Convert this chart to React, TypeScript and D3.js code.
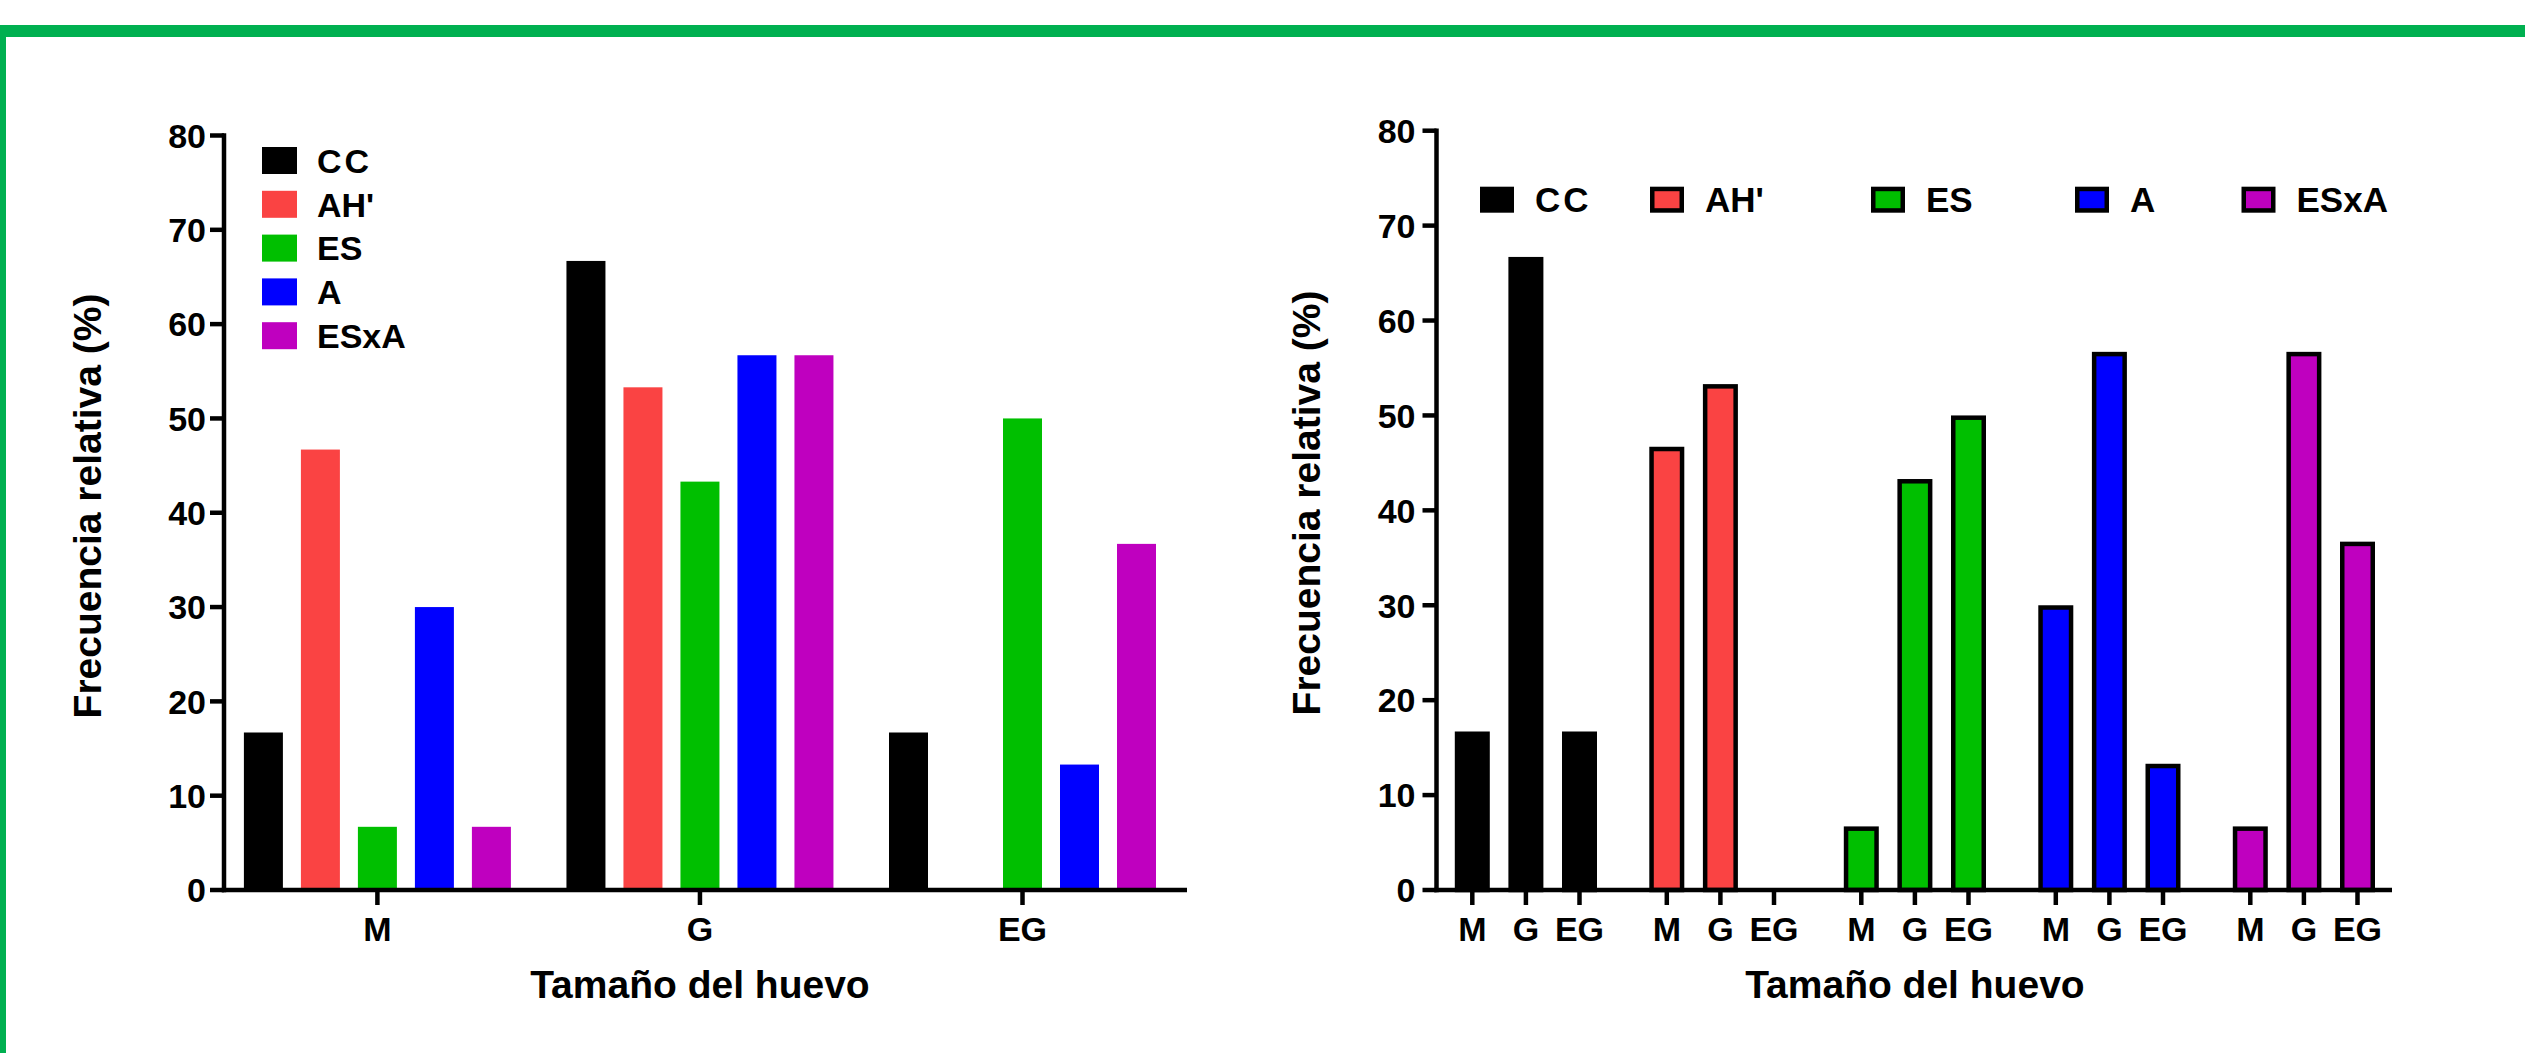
import React, { useEffect, useRef } from "react";
import * as d3 from "d3";

// egg sizes and treatments
const sizes = ["M", "G", "EG"];
const treatments = ["CC", "AH'", "ES", "A", "ESxA"];

// relative frequency (%) per treatment, in the order of sizes
const ccValues = [16.7, 66.7, 16.7];
const ahValues = [46.7, 53.3, 0];
const esValues = [6.7, 43.3, 50];
const aValues = [30, 56.7, 13.3];
const esxaValues = [6.7, 56.7, 36.7];

const yTicks = [0, 10, 20, 30, 40, 50, 60, 70, 80];

const seriesValues = [ccValues, ahValues, esValues, aValues, esxaValues];
const colors = ["#000000", "#FA4343", "#00BF00", "#0000FF", "#BF00BF"];

const FONT = "'Liberation Sans', Arial, sans-serif";
const W = 2525;
const H = 1053;

const App: React.FC = () => {
  const svgRef = useRef<SVGSVGElement>(null);

  useEffect(() => {
    if (!svgRef.current) return;
    const svg = d3.select(svgRef.current);
    svg.selectAll("*").remove();

    // green frame
    svg.append("rect").attr("x", 0).attr("y", 25).attr("width", W).attr("height", 12).attr("fill", "#00B050");
    svg.append("rect").attr("x", 0).attr("y", 25).attr("width", 6).attr("height", H - 25).attr("fill", "#00B050");

    const base = 890;

    const drawYAxis = (g: any, y: d3.ScaleLinear<number, number>, axisX: number, xEnd: number, labelGap: number) => {
      g.append("line")
        .attr("x1", axisX).attr("x2", axisX)
        .attr("y1", y(80) - 2.25).attr("y2", base + 2.25)
        .attr("stroke", "#000").attr("stroke-width", 4.5);
      g.append("line")
        .attr("x1", axisX - 2.25).attr("x2", xEnd)
        .attr("y1", base).attr("y2", base)
        .attr("stroke", "#000").attr("stroke-width", 4.5);
      yTicks.forEach((t) => {
        g.append("line")
          .attr("x1", axisX - 14).attr("x2", axisX)
          .attr("y1", y(t)).attr("y2", y(t))
          .attr("stroke", "#000").attr("stroke-width", 4.5);
        g.append("text")
          .attr("x", axisX - labelGap)
          .attr("y", y(t))
          .attr("dy", "0.36em")
          .attr("text-anchor", "end")
          .style("font-family", FONT)
          .style("font-weight", "bold")
          .style("font-size", "34px")
          .text(t);
      });
    };

    const yTitle = (g: any, x: number, cy: number) => {
      g.append("text")
        .attr("transform", `translate(${x},${cy}) rotate(-90)`)
        .attr("text-anchor", "middle")
        .style("font-family", FONT)
        .style("font-weight", "bold")
        .style("font-size", "39px")
        .text("Frecuencia relativa (%)");
    };

    const xTitle = (g: any, cx: number) => {
      g.append("text")
        .attr("x", cx).attr("y", 998)
        .attr("text-anchor", "middle")
        .style("font-family", FONT)
        .style("font-weight", "bold")
        .style("font-size", "39px")
        .text("Tamaño del huevo");
    };

    const xTick = (g: any, x: number, label: string) => {
      g.append("line")
        .attr("x1", x).attr("x2", x)
        .attr("y1", base).attr("y2", base + 15)
        .attr("stroke", "#000").attr("stroke-width", 4.5);
      g.append("text")
        .attr("x", x).attr("y", 941)
        .attr("text-anchor", "middle")
        .style("font-family", FONT)
        .style("font-weight", "bold")
        .style("font-size", "34px")
        .text(label);
    };

    // ---------- left chart: grouped by size ----------
    const left = svg.append("g");
    const yL = d3.scaleLinear().domain([0, 80]).range([base, 135.5]);
    const xL = d3.scalePoint<string>().domain(sizes).range([377.4, 1022.5]);
    const offL = d3.scalePoint<string>().domain(treatments).range([-114, 114]);
    const bwL = 39;

    treatments.forEach((tr, i) => {
      left.selectAll(null)
        .data(sizes.map((s, j) => ({ s, v: seriesValues[i][j] })))
        .enter()
        .append("rect")
        .attr("x", (d) => (xL(d.s) as number) + (offL(tr) as number) - bwL / 2)
        .attr("y", (d) => yL(d.v))
        .attr("width", bwL)
        .attr("height", (d) => base - yL(d.v))
        .attr("fill", colors[i]);
    });

    drawYAxis(left, yL, 224, 1187, 18);
    sizes.forEach((s) => xTick(left, xL(s) as number, s));
    xTitle(left, xL("G") as number);
    yTitle(left, 101, 506);

    // legend (vertical)
    treatments.forEach((tr, i) => {
      const cy = 160.5 + i * 43.8;
      left.append("rect")
        .attr("x", 262).attr("y", cy - 13.5)
        .attr("width", 35).attr("height", 27)
        .attr("fill", colors[i]);
      left.append("text")
        .attr("x", 317).attr("y", cy)
        .attr("dy", "0.36em")
        .style("font-family", FONT)
        .style("font-weight", "bold")
        .style("font-size", "34px")
        .style("letter-spacing", tr === "CC" ? "3px" : "0px")
        .text(tr);
    });

    // ---------- right chart: grouped by treatment ----------
    const right = svg.append("g");
    const yR = d3.scaleLinear().domain([0, 80]).range([base, 130.7]);
    const xR = d3.scalePoint<string>().domain(treatments).range([1525.9, 2303.9]);
    const offR = d3.scalePoint<string>().domain(sizes).range([-53.6, 53.6]);
    const sw = 4.5;
    const bwR = 35 - sw;

    treatments.forEach((tr, i) => {
      right.selectAll(null)
        .data(sizes.map((s, j) => ({ s, v: seriesValues[i][j] })).filter((d) => d.v > 0))
        .enter()
        .append("rect")
        .attr("x", (d) => (xR(tr) as number) + (offR(d.s) as number) - bwR / 2)
        .attr("y", (d) => yR(d.v) + sw / 2)
        .attr("width", bwR)
        .attr("height", (d) => base - yR(d.v) - sw / 2)
        .attr("fill", colors[i])
        .attr("stroke", "#000")
        .attr("stroke-width", sw);
    });

    drawYAxis(right, yR, 1436.5, 2392, 21);
    treatments.forEach((tr) =>
      sizes.forEach((s) => xTick(right, (xR(tr) as number) + (offR(s) as number), s))
    );
    xTitle(right, xR("ES") as number);
    yTitle(right, 1320, 503);

    // legend (single row)
    const legendXR = [1480, 1650, 1871, 2075, 2241.5];
    treatments.forEach((tr, i) => {
      const cy = 199.7;
      right.append("rect")
        .attr("x", legendXR[i] + sw / 2).attr("y", cy - 13 + sw / 2)
        .attr("width", 34 - sw).attr("height", 26 - sw)
        .attr("fill", colors[i])
        .attr("stroke", "#000")
        .attr("stroke-width", sw);
      right.append("text")
        .attr("x", legendXR[i] + 55).attr("y", cy)
        .attr("dy", "0.36em")
        .style("font-family", FONT)
        .style("font-weight", "bold")
        .style("font-size", "35px")
        .style("letter-spacing", tr === "CC" ? "3px" : "0px")
        .text(tr);
    });
  }, []);

  return (
    <svg
      ref={svgRef}
      width={W}
      height={H}
      style={{ position: "absolute", left: 0, top: 0, background: "#fff" }}
    ></svg>
  );
};

export default App;
